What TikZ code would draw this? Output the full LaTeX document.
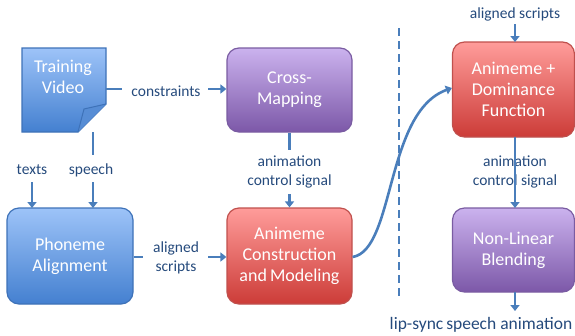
\documentclass[tikz,border=0pt]{standalone}
\usepackage{fontspec}
\setmainfont{Carlito}
\usetikzlibrary{arrows.meta,calc}
\definecolor{lnblue}{HTML}{4A7EBB}
\definecolor{txtblue}{HTML}{254A7C}
\definecolor{bluetop}{HTML}{9DC3F8}
\definecolor{bluebot}{HTML}{4480D0}
\definecolor{blueedge}{HTML}{3E72B8}
\definecolor{purtop}{HTML}{CBB2EE}
\definecolor{purbot}{HTML}{7C58A8}
\definecolor{puredge}{HTML}{7A5CA2}
\definecolor{redtop}{HTML}{FF9C9A}
\definecolor{redbot}{HTML}{CC3C38}
\definecolor{rededge}{HTML}{C0504D}
\tikzset{
  boxfont/.style={font=\fontsize{18}{21}\selectfont},
  box/.style={rounded corners=12pt, draw, line width=1.2pt, minimum width=#1, align=center,
    text=white, boxfont, inner sep=1pt},
  bluebox/.style={box=126pt, top color=bluetop, bottom color=bluebot, draw=blueedge},
  purbox/.style={box=125pt, top color=purtop, bottom color=purbot, draw=puredge},
  redbox/.style={box=125pt, top color=redtop, bottom color=redbot, draw=rededge},
  lbl/.style={text=txtblue, font=\fontsize{15.5}{19}\selectfont, align=center, inner sep=1pt},
  conn/.style={draw=lnblue, line width=2.6pt},
  arr/.style={conn, -{Triangle[width=9pt,length=6pt]}},
}
\begin{document}
\begin{tikzpicture}[x=1pt,y=-1pt]
\useasboundingbox (0,0) rectangle (575,335);
% Training video document
\node[minimum width=84pt, minimum height=84pt, inner sep=0pt] (tv) at (64,90) {};
\shade[top color=bluetop, bottom color=bluebot, draw=blueedge, line width=1.2pt]
  (22,48) -- (106,48) -- (106,104) -- (78,132) -- (22,132) -- cycle;
\draw[blueedge, line width=1pt, fill=bluebot!90!white] (106,104) -- (84,109) -- (78,132);
\node[text=white, boxfont, align=center] at (63,77) {Training\\Video};
% boxes
\node[purbox, minimum height=84pt] (cm) at (289.5,90) {Cross-\\Mapping};
\node[bluebox, minimum height=96pt] (pa) at (70,256) {Phoneme\\Alignment};
\node[redbox, minimum height=96pt] (acm) at (289.5,256) {Animeme\\Construction\\and\,Modeling};
\node[redbox, minimum height=95pt, minimum width=122pt] (adf) at (513.5,89.5) {Animeme +\\Dominance\\Function};
\node[purbox, minimum height=84pt, minimum width=122pt] (nlb) at (513.5,250) {Non-Linear\\Blending};
% labels
\node[lbl] (lcon) at (166,91) {constraints};
\node[lbl] (ltexts) at (32,170) {texts};
\node[lbl] (lspeech) at (91,170) {speech};
\node[lbl] (lal) at (176,258) {aligned\\scripts};
\node[lbl] (lacs) at (289.5,172) {animation\\control signal};
\node[lbl] (lal2) at (515,14) {aligned scripts};
\node[lbl] (lacs2) at (515,172) {animation\\control signal};
\node[lbl, font=\fontsize{17.5}{20}\selectfont] (llip) at (481,325) {lip-sync\,speech animation};
% connectors
\draw[conn] (tv.east |- 0,89) -- (122,89);
\draw[arr] (208,89) -- (cm.west |- 0,89);
\coordinate (tvb) at (93,132);
\draw[conn] (tvb) -- (93,155);
\draw[arr] (32,182) -- (32,208);
\draw[arr] (93,182) -- (93,208);
\draw[conn] (pa.east |- 0,257) -- (143,257);
\draw[arr] (208,257) -- (acm.west |- 0,257);
\draw[conn] (cm.south) -- (289.5,150);
\draw[arr] (289.5,194) -- (acm.north);
\draw[arr] (acm.east |- 0,257) .. controls (395,250) and (385,112) .. (adf.west |- 0,88);
\draw[arr] (515,24) -- (515,42);
\draw[arr] (515,137) -- (515,208);
\draw[arr] (515,292) -- (515,311);
% dashed separator
\draw[lnblue, line width=2.8pt, dash pattern=on 8pt off 5pt] (399,28) -- (399,300);
\end{tikzpicture}
\end{document}
